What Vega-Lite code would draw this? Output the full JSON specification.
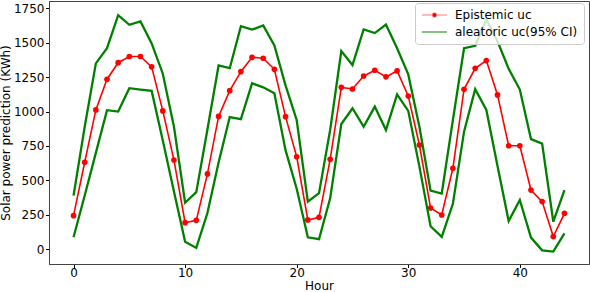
{
  "$schema": "https://vega.github.io/schema/vega-lite/v6.json",
  "width": 540,
  "height": 263,
  "autosize": {"type": "none"},
  "padding": {"left": 49, "top": 1, "right": 1, "bottom": 28},
  "background": "white",
  "config": {
    "font": "DejaVu Sans",
    "view": {"stroke": "#444444", "strokeWidth": 1},
    "axis": {
      "grid": false,
      "labelFont": "DejaVu Sans",
      "titleFont": "DejaVu Sans",
      "labelFontSize": 12,
      "titleFontSize": 12,
      "titleFontWeight": "normal",
      "labelColor": "#000000",
      "titleColor": "#000000",
      "tickColor": "#000000",
      "tickSize": 3.5,
      "domainColor": "#444444"
    }
  },
  "data": {
    "values": [
      {"h": 0, "k": "ep", "v": 244}, {"h": 0, "k": "up", "v": 390}, {"h": 0, "k": "lo", "v": 87},
      {"h": 1, "k": "ep", "v": 632}, {"h": 1, "k": "up", "v": 890}, {"h": 1, "k": "lo", "v": 390},
      {"h": 2, "k": "ep", "v": 1012}, {"h": 2, "k": "up", "v": 1350}, {"h": 2, "k": "lo", "v": 700},
      {"h": 3, "k": "ep", "v": 1235}, {"h": 3, "k": "up", "v": 1460}, {"h": 3, "k": "lo", "v": 1010},
      {"h": 4, "k": "ep", "v": 1355}, {"h": 4, "k": "up", "v": 1700}, {"h": 4, "k": "lo", "v": 1000},
      {"h": 5, "k": "ep", "v": 1400}, {"h": 5, "k": "up", "v": 1630}, {"h": 5, "k": "lo", "v": 1170},
      {"h": 6, "k": "ep", "v": 1400}, {"h": 6, "k": "up", "v": 1655}, {"h": 6, "k": "lo", "v": 1160},
      {"h": 7, "k": "ep", "v": 1325}, {"h": 7, "k": "up", "v": 1495}, {"h": 7, "k": "lo", "v": 1150},
      {"h": 8, "k": "ep", "v": 1005}, {"h": 8, "k": "up", "v": 1275}, {"h": 8, "k": "lo", "v": 790},
      {"h": 9, "k": "ep", "v": 648}, {"h": 9, "k": "up", "v": 890}, {"h": 9, "k": "lo", "v": 420},
      {"h": 10, "k": "ep", "v": 193}, {"h": 10, "k": "up", "v": 338}, {"h": 10, "k": "lo", "v": 55},
      {"h": 11, "k": "ep", "v": 210}, {"h": 11, "k": "up", "v": 415}, {"h": 11, "k": "lo", "v": 10},
      {"h": 12, "k": "ep", "v": 547}, {"h": 12, "k": "up", "v": 870}, {"h": 12, "k": "lo", "v": 263},
      {"h": 13, "k": "ep", "v": 965}, {"h": 13, "k": "up", "v": 1335}, {"h": 13, "k": "lo", "v": 630},
      {"h": 14, "k": "ep", "v": 1152}, {"h": 14, "k": "up", "v": 1315}, {"h": 14, "k": "lo", "v": 960},
      {"h": 15, "k": "ep", "v": 1290}, {"h": 15, "k": "up", "v": 1620}, {"h": 15, "k": "lo", "v": 945},
      {"h": 16, "k": "ep", "v": 1394}, {"h": 16, "k": "up", "v": 1595}, {"h": 16, "k": "lo", "v": 1205},
      {"h": 17, "k": "ep", "v": 1387}, {"h": 17, "k": "up", "v": 1625}, {"h": 17, "k": "lo", "v": 1176},
      {"h": 18, "k": "ep", "v": 1307}, {"h": 18, "k": "up", "v": 1480}, {"h": 18, "k": "lo", "v": 1133},
      {"h": 19, "k": "ep", "v": 963}, {"h": 19, "k": "up", "v": 1190}, {"h": 19, "k": "lo", "v": 720},
      {"h": 20, "k": "ep", "v": 672}, {"h": 20, "k": "up", "v": 939}, {"h": 20, "k": "lo", "v": 440},
      {"h": 21, "k": "ep", "v": 213}, {"h": 21, "k": "up", "v": 346}, {"h": 21, "k": "lo", "v": 87},
      {"h": 22, "k": "ep", "v": 232}, {"h": 22, "k": "up", "v": 407}, {"h": 22, "k": "lo", "v": 73},
      {"h": 23, "k": "ep", "v": 653}, {"h": 23, "k": "up", "v": 866}, {"h": 23, "k": "lo", "v": 370},
      {"h": 24, "k": "ep", "v": 1176}, {"h": 24, "k": "up", "v": 1440}, {"h": 24, "k": "lo", "v": 910},
      {"h": 25, "k": "ep", "v": 1164}, {"h": 25, "k": "up", "v": 1338}, {"h": 25, "k": "lo", "v": 1024},
      {"h": 26, "k": "ep", "v": 1258}, {"h": 26, "k": "up", "v": 1597}, {"h": 26, "k": "lo", "v": 890},
      {"h": 27, "k": "ep", "v": 1300}, {"h": 27, "k": "up", "v": 1570}, {"h": 27, "k": "lo", "v": 1036},
      {"h": 28, "k": "ep", "v": 1252}, {"h": 28, "k": "up", "v": 1632}, {"h": 28, "k": "lo", "v": 866},
      {"h": 29, "k": "ep", "v": 1295}, {"h": 29, "k": "up", "v": 1460}, {"h": 29, "k": "lo", "v": 1125},
      {"h": 30, "k": "ep", "v": 1113}, {"h": 30, "k": "up", "v": 1270}, {"h": 30, "k": "lo", "v": 1005},
      {"h": 31, "k": "ep", "v": 757}, {"h": 31, "k": "up", "v": 890}, {"h": 31, "k": "lo", "v": 600},
      {"h": 32, "k": "ep", "v": 300}, {"h": 32, "k": "up", "v": 426}, {"h": 32, "k": "lo", "v": 167},
      {"h": 33, "k": "ep", "v": 249}, {"h": 33, "k": "up", "v": 405}, {"h": 33, "k": "lo", "v": 90},
      {"h": 34, "k": "ep", "v": 588}, {"h": 34, "k": "up", "v": 939}, {"h": 34, "k": "lo", "v": 330},
      {"h": 35, "k": "ep", "v": 1162}, {"h": 35, "k": "up", "v": 1460}, {"h": 35, "k": "lo", "v": 854},
      {"h": 36, "k": "ep", "v": 1314}, {"h": 36, "k": "up", "v": 1478}, {"h": 36, "k": "lo", "v": 1163},
      {"h": 37, "k": "ep", "v": 1370}, {"h": 37, "k": "up", "v": 1670}, {"h": 37, "k": "lo", "v": 1012},
      {"h": 38, "k": "ep", "v": 1121}, {"h": 38, "k": "up", "v": 1510}, {"h": 38, "k": "lo", "v": 605},
      {"h": 39, "k": "ep", "v": 752}, {"h": 39, "k": "up", "v": 1310}, {"h": 39, "k": "lo", "v": 205},
      {"h": 40, "k": "ep", "v": 752}, {"h": 40, "k": "up", "v": 1160}, {"h": 40, "k": "lo", "v": 358},
      {"h": 41, "k": "ep", "v": 430}, {"h": 41, "k": "up", "v": 800}, {"h": 41, "k": "lo", "v": 85},
      {"h": 42, "k": "ep", "v": 346}, {"h": 42, "k": "up", "v": 767}, {"h": 42, "k": "lo", "v": -8},
      {"h": 43, "k": "ep", "v": 92}, {"h": 43, "k": "up", "v": 200}, {"h": 43, "k": "lo", "v": -17},
      {"h": 44, "k": "ep", "v": 261}, {"h": 44, "k": "up", "v": 430}, {"h": 44, "k": "lo", "v": 116}
    ]
  },
  "encoding": {
    "x": {
      "field": "h",
      "type": "quantitative",
      "scale": {"domain": [-2.2, 46.2], "nice": false, "zero": false},
      "axis": {"values": [0, 10, 20, 30, 40], "format": "d", "title": "Hour", "labelPadding": 0, "titlePadding": 2}
    },
    "y": {
      "field": "v",
      "type": "quantitative",
      "scale": {"domain": [-107, 1803], "nice": false, "zero": false},
      "axis": {"values": [0, 250, 500, 750, 1000, 1250, 1500, 1750], "format": "d", "title": "Solar power prediction (KWh)", "labelPadding": 1.5, "titlePadding": 1}
    }
  },
  "layer": [
    {
      "transform": [{"filter": "datum.k === 'ep'"}],
      "mark": {"type": "line", "strokeWidth": 1.6},
      "encoding": {
        "color": {
          "field": "k",
          "type": "nominal",
          "scale": {"domain": ["ep", "up", "lo"], "range": ["#ff0000", "#008000", "#008000"]},
          "legend": {
            "title": null,
            "values": ["ep", "up"],
            "labelExpr": "datum.value === 'ep' ? 'Epistemic uc' : 'aleatoric uc(95% CI)'",
            "orient": "none",
            "legendX": 366,
            "legendY": 2,
            "padding": 6,
            "strokeColor": "#cccccc",
            "fillColor": "rgba(255,255,255,0.8)",
            "cornerRadius": 3,
            "labelFontSize": 12,
            "labelFont": "DejaVu Sans",
            "labelColor": "#000000",
            "labelOffset": 22,
            "rowPadding": 5,
            "symbolSize": 100,
            "symbolStrokeWidth": 1.5,
            "encode": {
              "symbols": {
                "update": {
                  "shape": [
                    {"test": "datum.value === 'ep'", "value": "M-1,0H4M1.1,0A0.4,0.4,0,1,1,1.9,0A0.4,0.4,0,1,1,1.1,0Z"},
                    {"value": "M-1,0H4"}
                  ],
                  "strokeOpacity": [
                    {"test": "datum.value === 'ep'", "value": 0.35},
                    {"value": 0.65}
                  ],
                  "fill": [
                    {"test": "datum.value === 'ep'", "value": "#ff0000"},
                    {"value": "transparent"}
                  ],
                  "fillOpacity": {"value": 1}
                }
              }
            }
          }
        }
      }
    },
    {
      "transform": [{"filter": "datum.k === 'ep'"}],
      "mark": {"type": "circle", "size": 32, "color": "#ff0000", "opacity": 1}
    },
    {
      "transform": [{"filter": "datum.k !== 'ep'"}],
      "mark": {"type": "line", "strokeWidth": 2.3},
      "encoding": {
        "color": {"field": "k", "type": "nominal"}
      }
    }
  ]
}
